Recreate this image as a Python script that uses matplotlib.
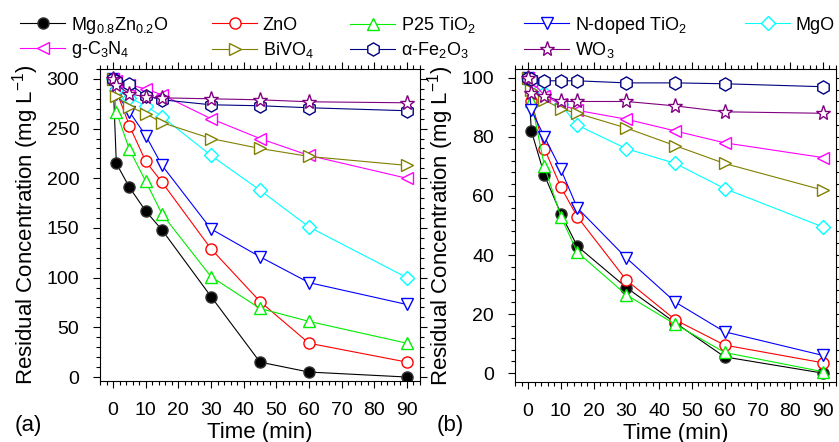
import numpy as np
import matplotlib.pyplot as plt
from matplotlib.ticker import MultipleLocator

plt.rcParams['font.family'] = ['Liberation Sans', 'DejaVu Sans']
plt.rcParams['mathtext.fontset'] = 'custom'
plt.rcParams['mathtext.rm'] = 'Liberation Sans'
plt.rcParams['mathtext.it'] = 'Liberation Sans:italic'

# ---------------- data ---------------- #

t = [0, 1, 5, 10, 15, 30, 45, 60, 90]

# (a)
mg_a    = [300, 215, 191, 167, 148, 81, 15, 5, 0]
zno_a   = [300, 288, 253, 217, 196, 129, 76, 34, 15]
p25_a   = [300, 267, 229, 197, 164, 101, 69, 56, 34]
ntio2_a = [300, 285, 267, 243, 213, 149, 121, 95, 73]
mgo_a   = [300, 289, 281, 273, 262, 223, 188, 151, 100]
gcn_a   = [300, 298, 294, 290, 284, 260, 240, 223, 200]
bivo4_a = [300, 283, 272, 265, 256, 240, 230, 222, 213]
fe2o3_a = [300, 298, 295, 283, 279, 274, 273, 271, 268]
wo3_a   = [300, 294, 285, 282, 281, 280, 279, 277, 276]

# (b)
mg_b    = [100, 82, 67, 54, 43, 29, 17, 5.5, 0]
zno_b   = [100, 92, 76, 63, 53, 31.5, 18, 9.5, 3.5]
p25_b   = [100, 92, 70, 53, 41, 26.5, 16.5, 7, 0.5]
ntio2_b = [100, 89, 80, 69, 56, 39, 24, 14, 6]
mgo_b   = [100, 98, 95, 91, 84, 76, 71, 62.5, 49.5]
gcn_b   = [100, 99, 94, 91, 89, 86, 82, 78, 73]
bivo4_b = [100, 96, 92.5, 89.5, 88, 83, 77, 71, 62]
fe2o3_b = [100, 99.5, 99, 99, 99, 98.3, 98.3, 98, 97]
wo3_b   = [100, 95, 94, 92, 92, 92, 90.5, 88.5, 88]

labels = ['Mg$_{0.8}$Zn$_{0.2}$O', 'ZnO', 'P25 TiO$_2$', 'N-doped TiO$_2$', 'MgO',
          'g-C$_3$N$_4$', 'BiVO$_4$', 'α-Fe$_2$O$_3$', 'WO$_3$']

# ---------------- styles ---------------- #

styles = [
    dict(color='black',   marker='o', ms=8, mfc='black'),
    dict(color='#FF0000', marker='o', ms=8),
    dict(color='#00EE00', marker='^', ms=9),
    dict(color='#0000FF', marker='v', ms=9),
    dict(color='#00FFFF', marker='D', ms=7),
    dict(color='#FF00FF', marker='<', ms=9),
    dict(color='#808000', marker='>', ms=9),
    dict(color='#000080', marker='h', ms=9.5),
    dict(color='#800080', marker='*', ms=11),
]

data_a = [mg_a, zno_a, p25_a, ntio2_a, mgo_a, gcn_a, bivo4_a, fe2o3_a, wo3_a]
data_b = [mg_b, zno_b, p25_b, ntio2_b, mgo_b, gcn_b, bivo4_b, fe2o3_b, wo3_b]

fig = plt.figure(figsize=(8.39, 4.42), dpi=100)
ax_a = fig.add_axes([100/839, 1 - 381/442, 320/839, 312/442])
ax_b = fig.add_axes([515/839, 1 - 382/442, 321/839, 313/442])

handles = []
for ax, data in [(ax_a, data_a), (ax_b, data_b)]:
    handles = []
    for y, st in zip(data, styles):
        kw = dict(st)
        kw.setdefault('mfc', 'white')
        mec = kw['color']
        if kw['mfc'] == 'black':
            mec = '#333333'
        line, = ax.plot(t, y, lw=0.8, mec=mec, mew=1.0, **kw)
        handles.append(line)

    ax.set_xlim(-4, 94)
    ax.xaxis.set_major_locator(MultipleLocator(10))
    ax.xaxis.set_minor_locator(MultipleLocator(2))
    ax.tick_params(which='both', direction='out', top=True, right=True,
                   labelsize=14, width=0.8)
    ax.tick_params(which='major', length=5, pad=10)
    ax.tick_params(which='minor', length=3)
    ax.set_xlabel('Time (min)', fontsize=16, labelpad=2)
    ax.set_ylabel('Residual Concentration (mg L$^{-1}$)', fontsize=16, labelpad=4)
    for s in ax.spines.values():
        s.set_linewidth(0.8)

ax_a.set_ylim(-4, 310)
ax_a.yaxis.set_major_locator(MultipleLocator(50))
ax_a.yaxis.set_minor_locator(MultipleLocator(10))
ax_b.set_ylim(-3, 103)
ax_b.yaxis.set_major_locator(MultipleLocator(20))
ax_b.yaxis.set_minor_locator(MultipleLocator(4))

fig.text(28/839, 1 - 426/442, '(a)', fontsize=16, ha='center', va='center')
fig.text(450/839, 1 - 426/442, '(b)', fontsize=16, ha='center', va='center')

# legend: one small legend per entry so the two rows line up
leg_x = [20, 212, 350, 524, 745, 20, 212, 350, 524]
leg_y = [25, 25, 25, 25, 25, 50, 50, 50, 50]
for h, lab, x, y in zip(handles, labels, leg_x, leg_y):
    fig.legend([h], [lab], loc='center left',
               bbox_to_anchor=(x/839, 1 - y/442),
               frameon=False, fontsize=13, handlelength=2.5,
               handletextpad=0.3, borderpad=0, borderaxespad=0,
               numpoints=1)

fig.savefig('out.png', dpi=100)
